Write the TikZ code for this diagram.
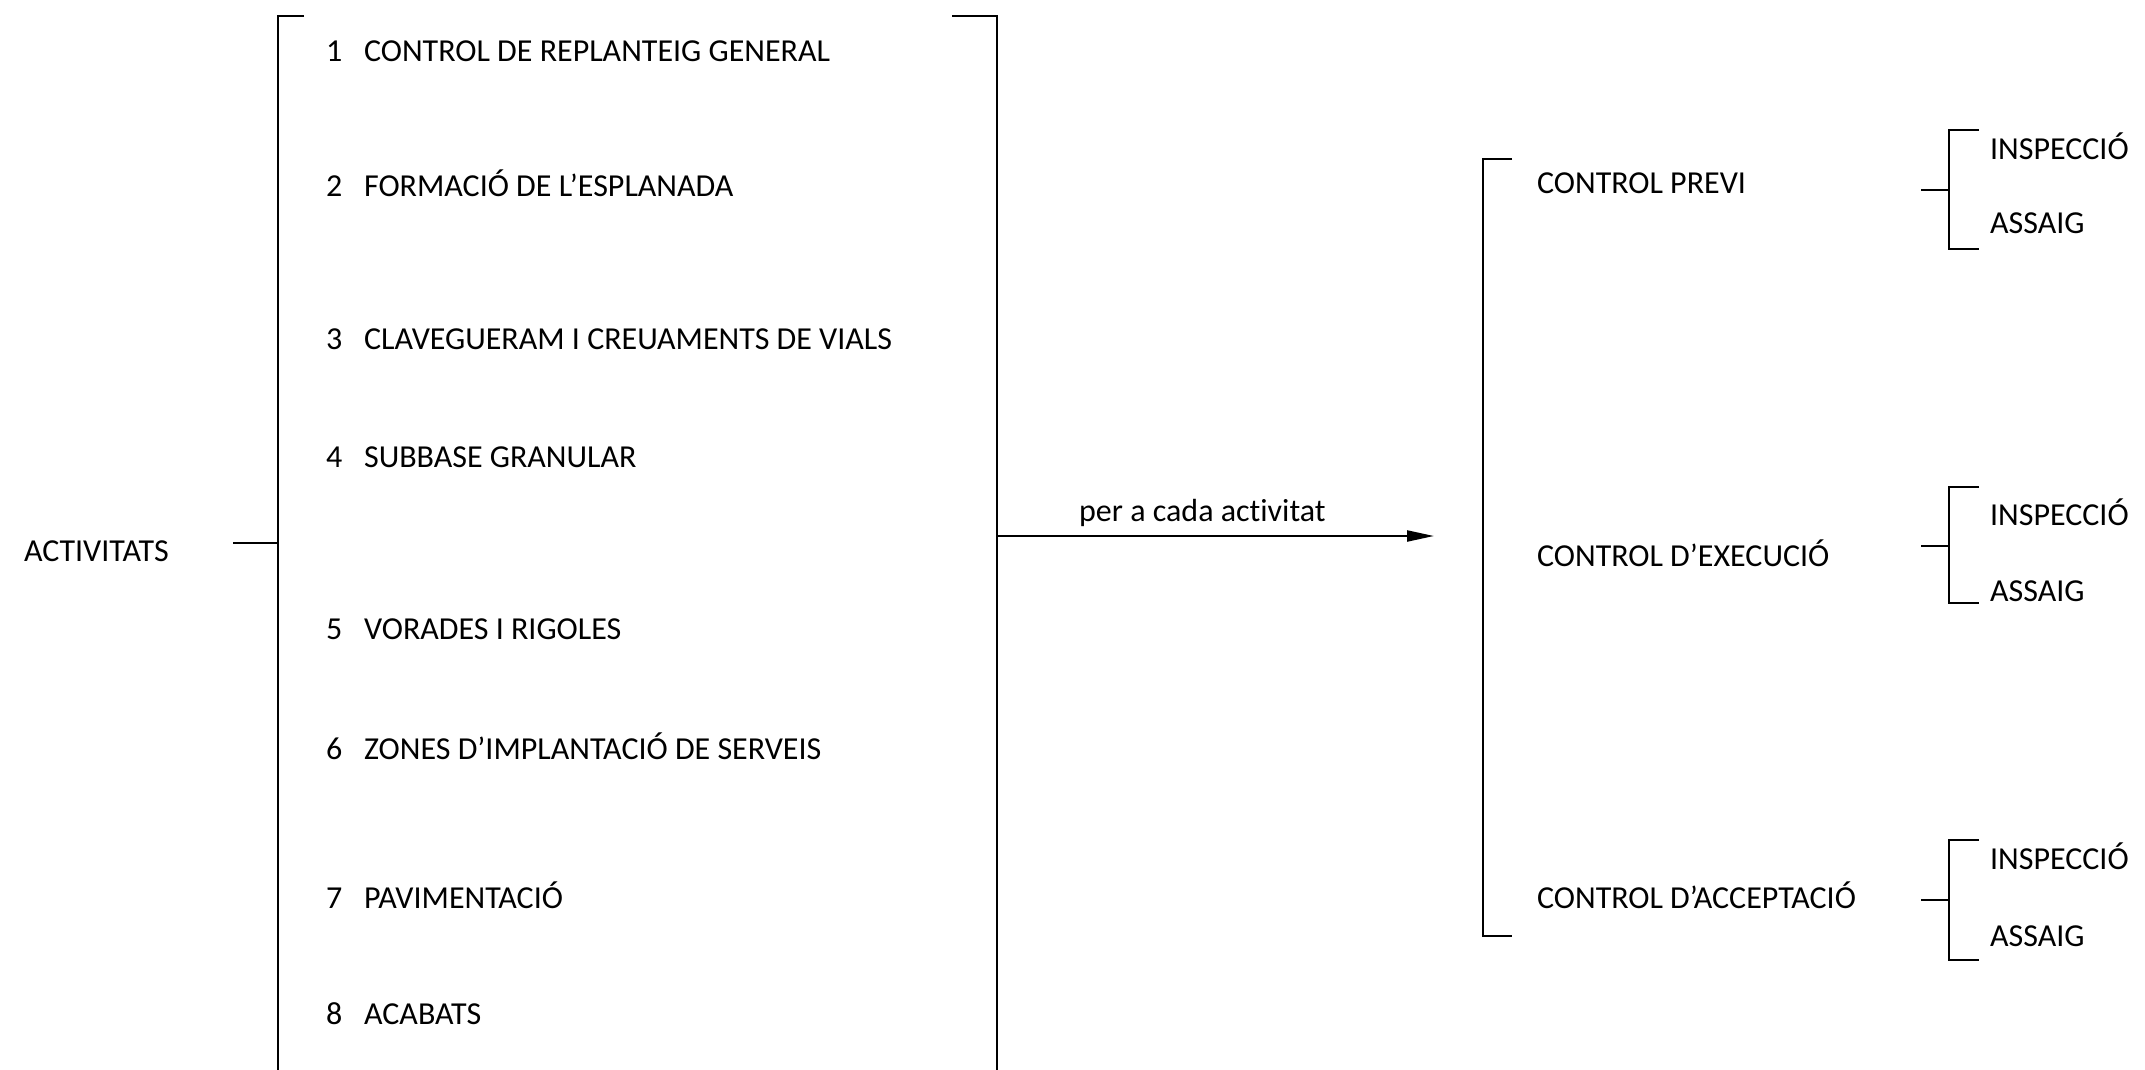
\documentclass[tikz,border=0pt]{standalone}
\usepackage{fontspec}
\setmainfont[Ligatures={NoCommon}]{Carlito}
\usetikzlibrary{arrows.meta}
\begin{document}
\begin{tikzpicture}[x=1pt,y=-1pt,
  line width=2.2pt,
  lbl/.style={inner sep=0pt,anchor=west,font=\fontsize{32}{38}\selectfont},
  brk/.style={line width=2.2pt,line join=miter}]
\useasboundingbox (0,0) rectangle (2145,1070);
% left column
\node[lbl] (act) at (23,551) {ACTIVITATS};
\foreach \n/\y/\t in {1/51/CONTROL DE REPLANTEIG GENERAL,
                      2/183/FORMACIÓ DE L’ESPLANADA,
                      3/339/CLAVEGUERAM I CREUAMENTS DE VIALS,
                      4/457/SUBBASE GRANULAR,
                      5/629/VORADES I RIGOLES,
                      6/746/ZONES D’IMPLANTACIÓ DE SERVEIS,
                      7/895/PAVIMENTACIÓ,
                      8/1014/ACABATS}{
  \node[lbl] (i\n) at (325,\y) {\makebox[38pt][l]{\n}\t};
}
% big bracket
\coordinate (lt) at (304,16);
\coordinate (ltc) at (278,16);
\coordinate (lb) at (278,1075);
\coordinate (lmid) at (278,543);
\coordinate (actend) at (233,543);
\draw[brk] (lt) -- (ltc) -- (lb);
\draw (actend) -- (lmid);
\coordinate (rt) at (952,16);
\coordinate (rtc) at (997,16);
\coordinate (rb) at (997,1075);
\coordinate (rmid) at (997,536);
\coordinate (arrend) at (1434,536);
\draw[brk] (rt) -- (rtc) -- (rb);
\draw[-{Triangle[length=27pt,width=11pt]}] (rmid) -- (arrend)
  node[pos=0.47,above=8pt,inner sep=0pt,font=\fontsize{32}{38}\selectfont] (lab) {per a cada activitat};
% control bracket
\coordinate (ct) at (1512,159);
\coordinate (ctc) at (1483,159);
\coordinate (cbc) at (1483,936);
\coordinate (cb) at (1512,936);
\draw[brk] (ct) -- (ctc) -- (cbc) -- (cb);
\node[lbl] (c1) at (1536,183) {CONTROL PREVI};
\node[lbl] (c2) at (1536,553) {CONTROL D’EXECUCIÓ};
\node[lbl] (c3) at (1536,895) {CONTROL D’ACCEPTACIÓ};
% sub brackets
\foreach \k/\m/\top/\bot/\yi/\ya in {1/190/130/249/146/223,
                                    2/546/487/603/512/591,
                                    3/900/840/960/856/936}{
  \coordinate (s\k a) at (1921,\m);
  \coordinate (s\k b) at (1949,\m);
  \draw (s\k a) -- (s\k b);
  \draw[brk] (1979,\top) -- (1949,\top) -- (1949,\bot) -- (1979,\bot);
  \node[lbl] (ins\k) at (1989,\yi) {INSPECCIÓ};
  \node[lbl] (ass\k) at (1989,\ya) {ASSAIG};
}
\end{tikzpicture}
\end{document}
